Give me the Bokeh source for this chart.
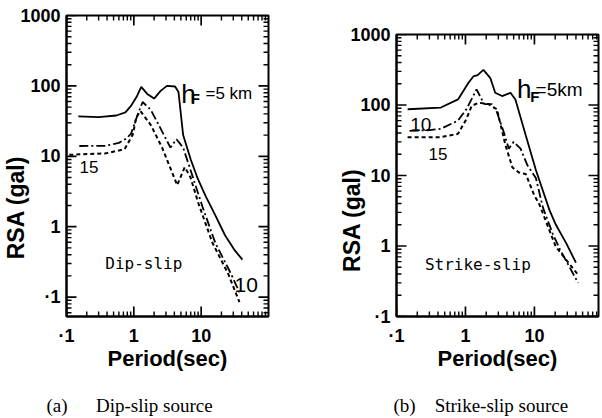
import math
from bokeh.plotting import figure
from bokeh.models import FixedTicker, Label, Spacer
from bokeh.layouts import row, column
from bokeh.embed import file_html
from bokeh.resources import INLINE

# ---------------- data ----------------
# (a) Dip-slip source
dip_T5 = [0.15, 0.3, 0.55, 0.75, 0.92, 1.1, 1.29, 1.58, 2.0, 2.5, 3.1, 4.1, 4.6, 5.4, 7.0, 8.9, 11.7, 15.5, 22.7, 31.6, 41]
dip_A5 = [37, 36, 38, 42, 53, 70, 97, 77, 66, 85, 100, 98, 82, 20, 9.0, 4.8, 2.7, 1.58, 0.75, 0.46, 0.34]
dip_T10 = [0.155, 0.38, 0.6, 0.78, 0.91, 1.14, 1.35, 1.78, 2.6, 3.5, 4.3, 5.4, 7.5, 10.5, 16.2, 28, 37]
dip_A10 = [14, 14.1, 15.5, 18, 21, 39, 59, 46, 23, 13.3, 17.5, 13.3, 5.1, 1.9, 0.59, 0.21, 0.117]
dip_T15 = [0.11, 0.38, 0.73, 0.97, 1.08, 1.25, 1.78, 2.63, 3.6, 4.4, 5.7, 6.9, 9.1, 14.6, 25.4, 37]
dip_A15 = [10.5, 11, 12.6, 20.5, 35, 44, 28, 13.3, 6.3, 3.9, 7.0, 5.1, 2.15, 0.6, 0.21, 0.085]

# (b) Strike-slip source
str_T5 = [0.145, 0.44, 0.78, 1.1, 1.3, 1.5, 1.82, 2.3, 2.7, 3.4, 4.5, 5.3, 7.5, 10.5, 16.6, 20.5, 29, 40]
str_A5 = [87, 92, 120, 205, 254, 265, 315, 240, 149, 134, 149, 120, 37, 12, 3.2, 2.0, 1.09, 0.58]
str_T10 = [0.155, 0.3, 0.44, 0.78, 1.03, 1.45, 1.72, 1.9, 2.4, 2.86, 3.6, 4.25, 5.0, 6.3, 7.9, 10.5, 13.3, 18.4, 23.5, 43]
str_A10 = [43, 44, 46, 60, 87, 166, 120, 103, 103, 79, 41, 24, 30, 24, 14, 9.2, 3.5, 1.5, 0.89, 0.30]
str_T15 = [0.145, 0.44, 0.78, 1.03, 1.23, 1.55, 2.15, 2.86, 3.8, 4.8, 6.0, 7.5, 9.9, 11.8, 20.4, 43]
str_A15 = [35, 35, 39, 63, 97, 108, 103, 87, 27, 13, 11, 10.5, 5.3, 3.9, 0.98, 0.39]

x_ticks = [0.1, 1, 10]
y_ticks = [0.1, 1, 10, 100, 1000]
tick_labels = {0.1: "·1", 1: "1", 10: "10", 100: "100", 1000: "1000"}

SANS = "Liberation Sans"
SERIF = "Liberation Serif"
MONO = "DejaVu Sans Mono"
NB = "\u00a0"


def minor_list(lo_exp, hi_exp):
    out = []
    for e in range(lo_exp, hi_exp):
        for k in range(2, 10):
            out.append(k * 10.0 ** e)
    return out


def style_axis(ax, ticks):
    ax.ticker = FixedTicker(ticks=ticks, minor_ticks=[])
    ax.axis_line_width = 2
    ax.axis_line_color = "black"
    ax.major_tick_in = 0
    ax.major_tick_out = 0
    ax.minor_tick_in = 0
    ax.minor_tick_out = 0
    ax.major_label_overrides = tick_labels
    ax.major_label_text_font = SANS
    ax.major_label_text_font_style = "bold"
    ax.major_label_text_font_size = "18px"
    ax.major_label_text_color = "black"
    ax.axis_label_text_font = SANS
    ax.axis_label_text_font_style = "bold"
    ax.axis_label_text_color = "black"


def frame_ticks(p, xr, yr):
    # inward tick marks on all four sides: dash markers centred on the frame
    # edges; the half outside the frame is clipped away
    xm = [v for v in minor_list(-1, 2) if xr[0] < v < xr[1]]
    ym = [v for v in minor_list(-2, 3) if yr[0] < v < yr[1]]
    xM = [v for v in x_ticks if xr[0] <= v <= xr[1]]
    yM = [v for v in y_ticks if yr[0] <= v <= yr[1]]
    for edge in (yr[0], yr[1]):
        p.scatter(xm, [edge] * len(xm), marker="dash", size=10, angle=math.pi / 2,
                  line_color="black", line_width=1.4)
        p.scatter(xM, [edge] * len(xM), marker="dash", size=20, angle=math.pi / 2,
                  line_color="black", line_width=1.7)
    for edge in (xr[0], xr[1]):
        p.scatter([edge] * len(ym), ym, marker="dash", size=10, angle=0,
                  line_color="black", line_width=1.4)
        p.scatter([edge] * len(yM), yM, marker="dash", size=20, angle=0,
                  line_color="black", line_width=1.7)


def panel(width, height, xr, yr, mb_left, mb_right, mb_top, mb_bottom, ylabel, caption, ylab_standoff):
    p = figure(width=width, height=height, x_axis_type="log", y_axis_type="log",
               x_range=xr, y_range=yr, output_backend="svg",
               toolbar_location=None, title=None, min_border_left=mb_left,
               min_border_right=mb_right, min_border_top=mb_top,
               min_border_bottom=mb_bottom)
    p.grid.visible = False
    p.outline_line_color = "black"
    p.outline_line_width = 2
    p.background_fill_color = "white"
    p.border_fill_color = "white"
    xa = p.xaxis[0]
    style_axis(xa, x_ticks)
    xa.major_label_standoff = 9
    xa.axis_label = "Period(sec)"
    xa.axis_label_text_font_size = "22px"
    xa.axis_label_standoff = -3
    ya = p.yaxis[0]
    style_axis(ya, y_ticks)
    ya.major_label_standoff = 6
    ya.axis_label = ylabel
    ya.axis_label_text_font_size = "23px"
    ya.axis_label_standoff = ylab_standoff
    frame_ticks(p, xr, yr)
    # caption as the label of an empty axis under the x axis
    from bokeh.models import LogAxis
    cap = LogAxis(ticker=FixedTicker(ticks=[], minor_ticks=[]), axis_line_color=None,
                  major_tick_in=0, major_tick_out=0, minor_tick_in=0, minor_tick_out=0,
                  major_label_standoff=0,
                  axis_label=caption, axis_label_standoff=21,
                  axis_label_text_font=SERIF, axis_label_text_font_size="19px",
                  axis_label_text_font_style="normal", axis_label_text_color="black")
    p.add_layout(cap, "below")
    return p


def txt(p, x, y, s, size, font=SANS, style="normal", align="left", base="alphabetic", angle=0.0):
    p.add_layout(Label(x=x, y=y, text=s, text_font=font, text_font_size=size,
                       text_font_style=style, text_align=align, text_baseline=base,
                       angle=angle, text_color="black"))


def curves(p, T5, A5, T10, A10, T15, A15):
    p.line(T5, A5, line_color="black", line_width=1.8)
    p.line(T10, A10, line_color="black", line_width=1.8, line_dash="9 3 2 3")
    p.line(T15, A15, line_color="black", line_width=2, line_dash="4 3")


# ---------------- (a) ----------------
pa = panel(300, 418, (0.1, 100), (0.053, 1000), 60, 32, 15, 95,
           "RSA (gal)" + NB * 13,
           "(a)\u2003\u2002Dip-slip source" + NB * 16, -12)
curves(pa, dip_T5, dip_A5, dip_T10, dip_A10, dip_T15, dip_A15)
txt(pa, 0.377, 0.296, "Dip-slip", "16px", font=MONO, align="left", base="middle")
txt(pa, 5.05, 77, "h", "26px")
txt(pa, 7.0, 66, "F", "15px", style="bold")
txt(pa, 11.6, 77, "=5 km", "17px")
txt(pa, 0.215, 7.0, "15", "17px", align="center", base="middle")
txt(pa, 46.7, 0.15, "10", "21px", align="center", base="middle")

# ---------------- (b) ----------------
pb = panel(302, 399, (0.1, 85), (0.1, 1000), 96, 4, 15, 97,
           "RSA (gal)" + NB * 14,
           "(b)\u2003Strike-slip source" + NB * 7, -18)
curves(pb, str_T5, str_A5, str_T10, str_A10, str_T15, str_A15)
txt(pb, 0.258, 0.548, "Strike-slip", "16px", font=MONO, align="left", base="middle")
txt(pb, 5.6, 166, "h", "26px")
txt(pb, 8.7, 132, "F", "15px", style="bold")
txt(pb, 10.4, 166, "=5km", "19px")
txt(pb, 0.225, 53.7, "10", "19px", align="center", base="middle")
txt(pb, 0.40, 20.4, "15", "17px", align="center", base="middle")

layout = row(pa, column(Spacer(width=302, height=19), pb))
open("out.html", "w").write(file_html(layout, INLINE))
